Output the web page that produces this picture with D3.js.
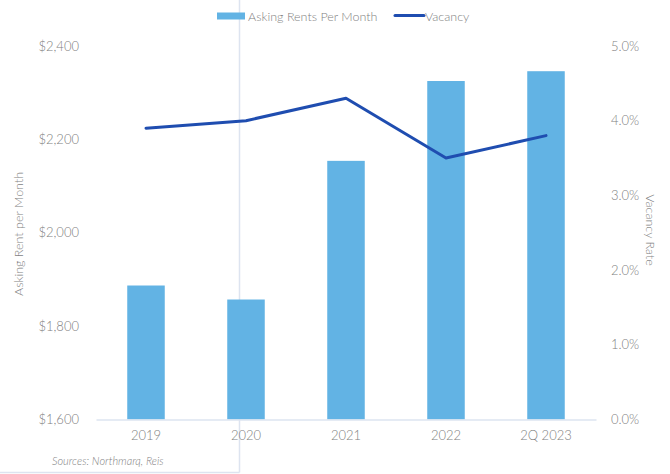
<!DOCTYPE html>
<html>
<head>
<meta charset="utf-8">
<script src="https://cdn.jsdelivr.net/npm/d3@7"></script>
<style>
  html, body { margin: 0; padding: 0; background: #fff; }
  svg { display: block; font-family: Lato, "Open Sans", sans-serif; font-weight: 300; }
</style>
</head>
<body>
<svg id="chart" width="670" height="474"></svg>
<script>
// Multifamily asking rents (bars, left axis) and vacancy rate (line, right axis)
const categories = ["2019", "2020", "2021", "2022", "2Q 2023"];
const askingRent = [1887, 1857, 2154, 2325, 2346];
const vacancy = [0.039, 0.040, 0.043, 0.035, 0.038];
const rentTicks = [1600, 1800, 2000, 2200, 2400];
const vacancyTicks = [0, 0.01, 0.02, 0.03, 0.04, 0.05];

const svg = d3.select("#chart");
const barColor = "#62b3e4";
const lineColor = "#1f4db0";
const textColor = "#7f7f7f";
const ruleColor = "#dde4f0";

const x = d3.scaleBand().domain(categories).range([96, 596])
  .paddingInner(0.625).paddingOuter(0.3125);
const yRent = d3.scaleLinear().domain([1600, 2400]).range([419.5, 46]);
const yVac = d3.scaleLinear().domain([0, 0.05]).range([419.5, 46]);

// framing rules
svg.append("line").attr("x1", 239.5).attr("x2", 239.5).attr("y1", 0).attr("y2", 472.5)
  .attr("stroke", ruleColor).attr("stroke-width", 1.5);
svg.append("line").attr("x1", 0).attr("x2", 239.5).attr("y1", 472.5).attr("y2", 472.5)
  .attr("stroke", ruleColor).attr("stroke-width", 1.5);

// bars
svg.append("g").selectAll("rect").data(categories).join("rect")
  .attr("x", d => x(d))
  .attr("width", x.bandwidth())
  .attr("y", (d, i) => yRent(askingRent[i]))
  .attr("height", (d, i) => yRent(1600) - yRent(askingRent[i]))
  .attr("fill", barColor);

// category axis
const xAxis = svg.append("g").attr("transform", "translate(0,419.5)")
  .call(d3.axisBottom(x).tickSize(0).tickPadding(11));
xAxis.select(".domain").attr("stroke", ruleColor).attr("stroke-width", 1.5);
xAxis.selectAll("text").attr("fill", textColor).attr("font-size", 13)
  .attr("font-family", "Lato, sans-serif").attr("font-weight", 300);

// left axis
const yl = svg.append("g").attr("transform", "translate(79,0)")
  .call(d3.axisLeft(yRent).tickValues(rentTicks).tickSize(0).tickPadding(0)
    .tickFormat(d => "$" + d3.format(",")(d)));
yl.select(".domain").remove();
yl.selectAll("text").attr("fill", textColor).attr("font-size", 13)
  .attr("font-family", "Lato, sans-serif").attr("font-weight", 300);

// right axis
const yr = svg.append("g").attr("transform", "translate(611,0)")
  .call(d3.axisRight(yVac).tickValues(vacancyTicks).tickSize(0).tickPadding(0)
    .tickFormat(d3.format(".1%")));
yr.select(".domain").remove();
yr.selectAll("text").attr("fill", textColor).attr("font-size", 13)
  .attr("font-family", "Lato, sans-serif").attr("font-weight", 300);

// vacancy line
const line = d3.line()
  .x((d, i) => x(categories[i]) + x.bandwidth() / 2)
  .y(d => yVac(d));
svg.append("path").datum(vacancy)
  .attr("d", line)
  .attr("fill", "none")
  .attr("stroke", lineColor)
  .attr("stroke-width", 3)
  .attr("stroke-linecap", "round")
  .attr("stroke-linejoin", "round");

// axis titles
svg.append("text")
  .attr("transform", "translate(23,234) rotate(-90)")
  .attr("text-anchor", "middle")
  .attr("fill", textColor).attr("font-size", 12.5)
  .text("Asking Rent per Month");
svg.append("text")
  .attr("transform", "translate(646,230) rotate(90)")
  .attr("text-anchor", "middle")
  .attr("fill", textColor).attr("font-size", 12.5)
  .text("Vacancy Rate");

// legend
const legend = svg.append("g");
legend.append("rect").attr("x", 217).attr("y", 12.5).attr("width", 28).attr("height", 7)
  .attr("fill", barColor);
legend.append("text").attr("x", 248).attr("y", 20.5)
  .attr("fill", textColor).attr("font-size", 12.5)
  .text("Asking Rents Per Month");
legend.append("line").attr("x1", 395).attr("x2", 424).attr("y1", 15.5).attr("y2", 15.5)
  .attr("stroke", lineColor).attr("stroke-width", 3).attr("stroke-linecap", "round");
legend.append("text").attr("x", 425).attr("y", 20.5)
  .attr("fill", textColor).attr("font-size", 12.5)
  .text("Vacancy");

// source note
svg.append("text").attr("x", 52).attr("y", 465)
  .attr("fill", textColor).attr("font-size", 11).attr("font-style", "italic")
  .text("Sources: Northmarq, Reis");
</script>
</body>
</html>
